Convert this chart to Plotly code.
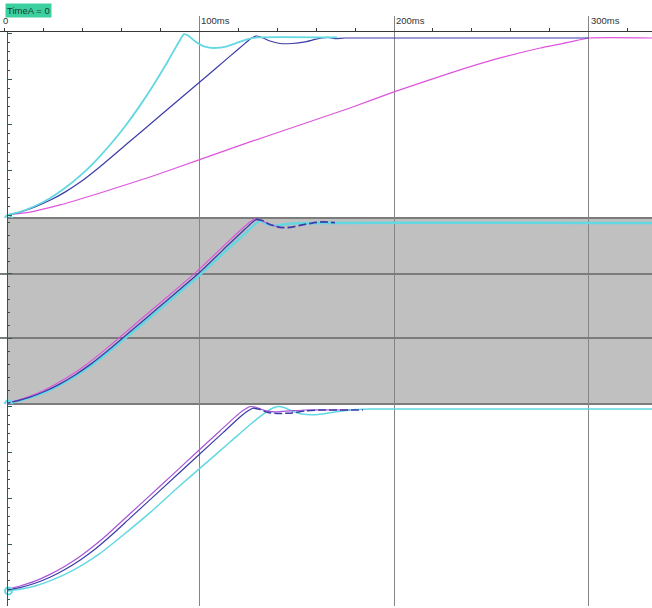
import plotly.graph_objects as go

# ---------------- data (time in ms, value in % of final) ----------------
tick_vals = [0, 100, 200, 300]
tick_text = ["0", "100ms", "200ms", "300ms"]
cursor_label = "TimeA = 0"

# Panel 1
p1_cyan_t = [1.7, 7.9, 15.6, 23.3, 31.0, 38.7, 46.4, 54.1, 61.8, 69.5, 77.2, 83.4, 87.5, 90.1, 92.1, 94.2, 97.3, 100.4, 104.5, 108.6, 113.7, 119.9, 125.0, 130.1, 170.7]
p1_cyan_v = [0.6, 2.3, 5.6, 10.0, 15.7, 22.5, 30.6, 39.9, 50.3, 62.0, 74.9, 86.1, 94.0, 98.9, 102.2, 101.4, 98.6, 96.3, 94.7, 94.4, 95.2, 97.5, 99.4, 100.3, 100.3]
p1_blue_t = [1.7, 7.9, 15.6, 23.3, 31.0, 38.7, 49.0, 64.4, 79.8, 100.4, 115.8, 123.5, 126.5, 129.1, 132.2, 136.3, 141.5, 147.6, 154.3, 159.4, 163.0, 166.1, 169.7, 174.8, 300.0]
p1_blue_v = [0.6, 2.2, 5.1, 8.8, 13.4, 18.9, 27.7, 42.0, 56.3, 75.4, 89.8, 97.0, 99.7, 101.1, 100.3, 98.3, 96.9, 96.9, 97.8, 99.2, 100.0, 100.3, 99.7, 100.0, 100.0]
p1_mag_t = [1.7, 13.0, 28.5, 49.0, 74.7, 99.8, 126.0, 151.7, 177.4, 200.0, 228.8, 254.5, 275.1, 290.5, 300.2, 333.0]
p1_mag_v = [0.6, 2.2, 6.2, 12.9, 21.9, 31.5, 41.6, 51.1, 60.7, 69.7, 80.3, 88.8, 94.4, 97.8, 100.0, 100.0]

# Panel 2
p2_cyan_t = [1.7, 7.9, 13.0, 20.8, 28.5, 36.2, 43.9, 53.1, 64.4, 79.8, 99.8, 115.8, 124.5, 129.5, 131.2, 134.0, 138.0, 143.0, 150.0, 333.0]
p2_cyan_v = [0.0, 1.4, 3.0, 6.0, 10.0, 14.8, 20.3, 27.9, 38.0, 51.9, 70.2, 86.2, 94.5, 99.5, 100.6, 99.2, 98.0, 98.6, 99.3, 99.4]
p2_mag_t = [1.7, 7.4, 12.5, 20.0, 27.5, 35.2, 42.9, 52.1, 63.4, 78.8, 98.8, 114.3, 122.5, 126.1, 128.1, 132.2, 136.3, 141.5]
p2_mag_v = [0.0, 1.7, 3.5, 6.9, 11.2, 16.1, 22.0, 29.9, 40.2, 54.3, 72.7, 88.6, 96.8, 100.1, 101.5, 100.8, 98.6, 97.0]
p2_blue_t = [1.7, 7.9, 13.0, 20.8, 28.5, 36.2, 43.9, 53.1, 64.4, 79.8, 99.8, 115.3, 123.5, 127.1, 129.1, 132.2, 136.3, 141.5, 146.6, 151.7, 157.9, 163.0, 169.7]
p2_blue_v = [0.0, 1.6, 3.3, 6.5, 10.6, 15.5, 21.2, 29.0, 39.3, 53.4, 71.8, 87.8, 96.1, 99.7, 101.4, 100.8, 98.6, 97.0, 97.0, 98.1, 99.4, 100.0, 99.6]

# Panel 3
p3_cyan_t = [1.7, 7.9, 15.6, 23.3, 32.1, 41.3, 49.0, 60.8, 74.7, 90.1, 99.8, 115.8, 126.0, 133.7, 137.8, 140.4, 143.5, 147.6, 152.7, 161.0, 169.7, 180.0, 188.7, 333.0]
p3_cyan_v = [-0.5, 0.4, 2.2, 5.0, 9.1, 14.6, 20.1, 30.1, 42.5, 57.4, 66.4, 81.3, 90.8, 97.3, 100.0, 100.8, 100.3, 98.4, 96.7, 96.4, 97.8, 99.2, 99.5, 99.5]
p3_mag_t = [1.7, 7.9, 15.6, 23.3, 31.0, 38.7, 46.4, 53.1, 64.4, 79.8, 99.8, 110.6, 118.3, 122.4, 126.0, 129.6, 133.7, 138.9, 146.6, 154.3, 177.4]
p3_mag_v = [0.5, 2.2, 4.9, 8.6, 13.1, 18.4, 24.7, 30.8, 41.9, 57.0, 76.8, 87.4, 95.0, 98.6, 100.8, 100.3, 98.6, 97.9, 98.4, 98.9, 98.9]
p3_blue_t = [1.7, 7.9, 15.6, 23.3, 31.0, 38.7, 46.4, 55.7, 64.4, 79.8, 99.8, 112.2, 120.9, 124.5, 127.6, 131.2, 135.3, 141.5, 147.6, 154.3, 162.0, 184.1]
p3_blue_v = [0.0, 1.3, 3.7, 7.0, 11.3, 16.4, 22.4, 30.9, 39.5, 54.6, 74.3, 86.5, 95.1, 98.1, 100.0, 99.2, 97.5, 97.0, 97.3, 98.4, 98.9, 98.9]

# cursor markers at TimeA
cursor_t = [2.0]
cursor_v = [[-1.5], [-0.5], [-0.5]]

# ---------------- styles ----------------
CYAN = "#62d8e2"
BLUE = "#3c3ca8"
MAG = "#dd55dd"
PURP = "#a855d8"
GRID = "#858585"
AXC = "#2f5a4f"

fig = go.Figure()


def add(t, v, yax, color, width, dash="solid"):
    fig.add_trace(go.Scatter(x=t, y=v, xaxis="x", yaxis=yax, mode="lines",
                             line=dict(color=color, width=width, dash=dash, shape="spline", smoothing=0.5),
                             hoverinfo="skip", showlegend=False))


# panel 1
add(p1_mag_t, p1_mag_v, "y", MAG, 1.2)
add(p1_blue_t, p1_blue_v, "y", BLUE, 1.2)
add(p1_cyan_t, p1_cyan_v, "y", CYAN, 1.8)

# panel 2
k2 = p2_blue_v.index(max(p2_blue_v))
add(p2_cyan_t, p2_cyan_v, "y2", CYAN, 2.4)
add(p2_mag_t, p2_mag_v, "y2", MAG, 1.2)
add(p2_blue_t[:k2 + 1], p2_blue_v[:k2 + 1], "y2", BLUE, 1.3)
add(p2_blue_t[k2:], p2_blue_v[k2:], "y2", BLUE, 1.8, "8px,3px")

# panel 3
k3 = p3_blue_v.index(max(p3_blue_v))
add(p3_cyan_t, p3_cyan_v, "y3", CYAN, 1.5)
add(p3_mag_t, p3_mag_v, "y3", PURP, 1.2)
add(p3_blue_t[:k3 + 1], p3_blue_v[:k3 + 1], "y3", BLUE, 1.2)
add(p3_blue_t[k3:], p3_blue_v[k3:], "y3", BLUE, 1.6, "8px,3px")

for yax, cv in zip(["y", "y2", "y3"], cursor_v):
    fig.add_trace(go.Scatter(x=cursor_t, y=cv, xaxis="x", yaxis=yax, mode="markers",
                             marker=dict(symbol="circle-open", size=7, color=CYAN, line=dict(width=2, color=CYAN)),
                             hoverinfo="skip", showlegend=False))

ypos = 0.0107


def yax(domain, rng, dtick, mdtick, grid=False):
    return dict(domain=domain, range=rng, anchor="free", position=ypos, showline=True,
                linecolor=AXC, linewidth=1, ticks="inside", tick0=0, dtick=dtick, ticklen=4,
                tickcolor=AXC, tickwidth=1, showticklabels=False, zeroline=False,
                showgrid=grid, gridcolor="#7c7c7c", gridwidth=1.5,
                minor=dict(tick0=0, dtick=mdtick, ticks="inside", ticklen=2, tickcolor=AXC, tickwidth=1, showgrid=False))


fig.update_layout(
    width=652, height=608,
    margin=dict(l=0, r=0, t=32, b=2),
    paper_bgcolor="white", plot_bgcolor="white",
    xaxis=dict(domain=[0, 1], range=[-2.36, 332.5], anchor="y", side="top",
               showline=True, linecolor="#3a3a3a", linewidth=1,
               tickmode="array", tickvals=tick_vals[1:], ticks="outside", ticklen=15,
               tickcolor=GRID, tickwidth=1, showticklabels=False,
               showgrid=True, gridcolor=GRID, gridwidth=1, zeroline=False,
               minor=dict(tickmode="linear", tick0=0, dtick=20, ticks="outside", ticklen=3,
                          tickcolor="#3a3a3a", tickwidth=1, showgrid=False)),
    yaxis=yax([0.6760, 1.0], [-1.12, 103.37], 25.62, 5.124),
    yaxis2=yax([0.3519, 0.6760], [-0.55, 102.2], 35.64, 7.127, grid=True),
    yaxis3=yax([0.0, 0.3519], [-8.79, 102.2], 25.27, 5.055),
    shapes=[
        dict(type="rect", xref="paper", yref="y2 domain", x0=ypos, x1=1, y0=0, y1=1,
             fillcolor="#c0c0c0", line=dict(width=0), layer="below"),
        dict(type="line", xref="paper", yref="y2 domain", x0=ypos, x1=1, y0=1, y1=1,
             line=dict(color="#7c7c7c", width=2), layer="below"),
        dict(type="line", xref="paper", yref="y2 domain", x0=ypos, x1=1, y0=0, y1=0,
             line=dict(color="#7c7c7c", width=2), layer="below"),
    ],
)

annotations = []
for v, txt in zip(tick_vals, tick_text):
    annotations.append(dict(x=v, xref="x", y=1.0209, yref="paper", text=txt, showarrow=False,
                            xanchor="left", yanchor="middle", xshift=(-4 if v == 0 else 0),
                            font=dict(family="Liberation Sans", size=9.5, color="#333333")))
annotations.append(dict(x=0.0072, xref="paper", y=1.0375, yref="paper", text=cursor_label,
                        showarrow=False, xanchor="left", yanchor="middle", bgcolor="#3ccfa0",
                        borderpad=1, font=dict(family="Liberation Sans", size=9.5, color="#1a3a30")))
fig.update_layout(annotations=annotations)

fig.write_html("out.html")
